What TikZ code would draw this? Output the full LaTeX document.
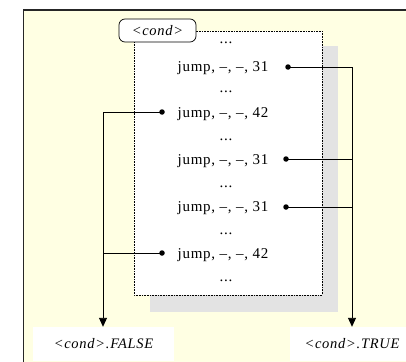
\documentclass[tikz,border=0pt]{standalone}
\usepackage{fontspec}
\setmainfont{Liberation Serif}[LetterSpace=5]
\usetikzlibrary{arrows.meta}
\definecolor{bgyellow}{HTML}{FFFFE3}
\definecolor{shadowgray}{HTML}{E3E3E3}
\tikzset{
  frameline/.style={line width=1.3pt, draw=black!85},
  codebox/.style={draw=black, line width=0.6pt, dash pattern=on 0.8pt off 0.8pt, fill=white},
  codeline/.style={font=\fontsize{15}{17}\selectfont, anchor=base, inner sep=0pt},
  condlabel/.style={draw=black, line width=0.7pt, rounded corners=6pt, fill=white,
    minimum width=77pt, minimum height=23pt, inner sep=0pt,
    font=\fontsize{14.5}{16}\selectfont\itshape},
  exitlabel/.style={fill=white, minimum height=34pt, inner sep=0pt,
    font=\fontsize{14.5}{16}\selectfont\itshape},
  jumpdot/.style={circle, fill=black, inner sep=0pt, minimum size=5.5pt},
  connector/.style={line width=0.9pt, draw=black},
  exitarrow/.style={connector, -{Triangle[width=8pt,length=9pt]}}
}
\begin{document}
\begin{tikzpicture}[x=1pt,y=-1pt]
\useasboundingbox (0,0) rectangle (406,361);
\clip (0,0) rectangle (406,361);
% outer frame
\draw[frameline, fill=bgyellow] (23.5,10) rectangle (430,400);
% shadow and code box
\fill[shadowgray] (150,46) rectangle (338,312);
\draw[codebox] (134,31) rectangle (322,295);
% code lines
\node[codeline] (l1)  at (226,44)  {...};
\node[codeline] (l2)  at (223,71)  {jump, –, –, 31};
\node[codeline] (l3)  at (226,92)  {...};
\node[codeline] (l4)  at (223,117) {jump, –, –, 42};
\node[codeline] (l5)  at (226,140) {...};
\node[codeline] (l6)  at (223,164) {jump, –, –, 31};
\node[codeline] (l7)  at (226,187) {...};
\node[codeline] (l8)  at (223,211) {jump, –, –, 31};
\node[codeline] (l9)  at (226,234) {...};
\node[codeline] (l10) at (223,258) {jump, –, –, 42};
\node[codeline] (l11) at (226,281) {...};
% label
\node[condlabel] (cond) at (157.5,30.5) {<cond>};
% exits
\node[exitlabel, minimum width=141pt] (false) at (103.5,344) {<cond>.FALSE};
\node[exitlabel, minimum width=124pt] (true) at (352,344) {<cond>.TRUE};
% dots
\node[jumpdot] (d2)  at (288,67)  {};
\node[jumpdot] (d4)  at (162,112) {};
\node[jumpdot] (d6)  at (286,159) {};
\node[jumpdot] (d8)  at (286,207) {};
\node[jumpdot] (d10) at (162,253) {};
% connectors
\coordinate (tr) at (352,67);
\coordinate (fl) at (103,112);
\draw[connector] (d2.center) -- (tr);
\draw[connector] (d6.center) -- (tr |- d6);
\draw[connector] (d8.center) -- (tr |- d8);
\draw[exitarrow] (tr) -- (true.north -| tr);
\draw[connector] (d4.center) -- (fl);
\draw[connector] (d10.center) -- (fl |- d10);
\draw[exitarrow] (fl) -- (false.north -| fl);
\end{tikzpicture}
\end{document}
